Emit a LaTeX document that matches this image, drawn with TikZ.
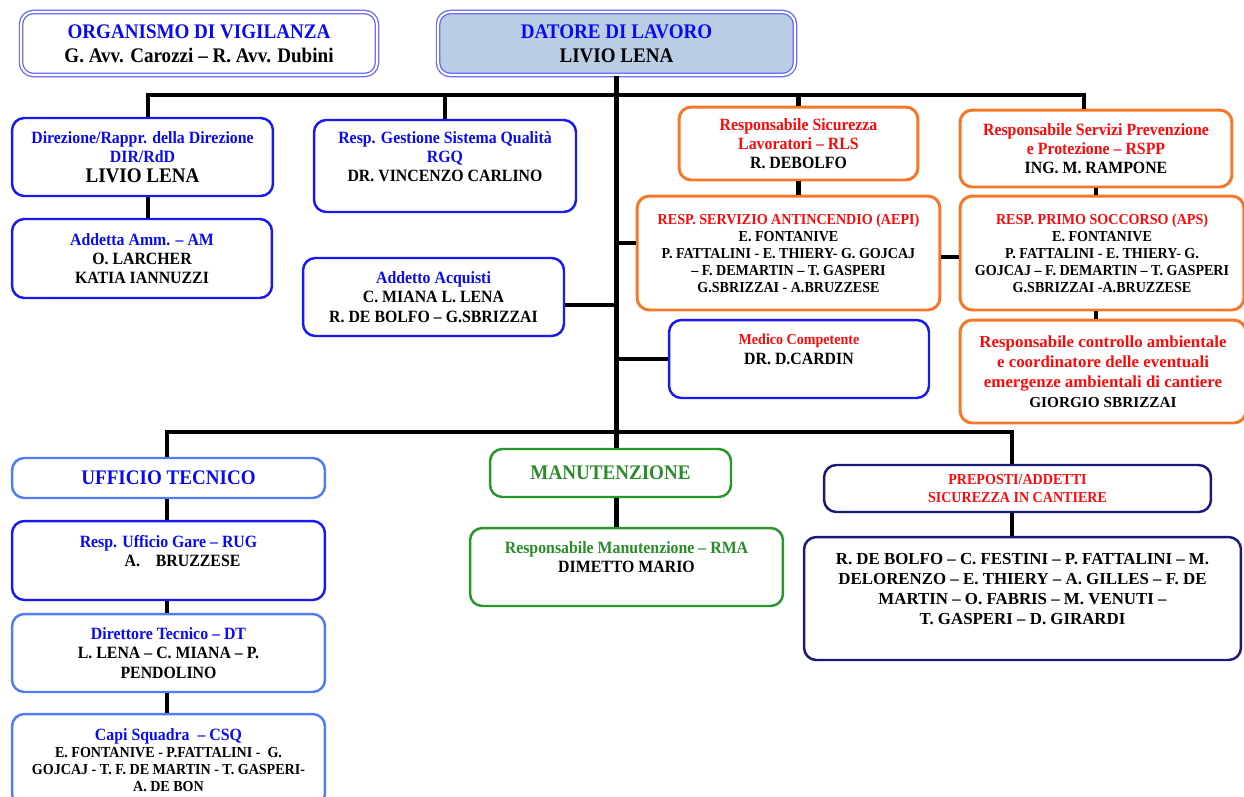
\documentclass[tikz,border=0pt]{standalone}
\usepackage{fontspec}
\setmainfont{Liberation Serif}[FakeStretch=0.92]
\newfontfamily\widefont{Liberation Serif}[Ligatures=TeX]
\definecolor{tblue}{RGB}{10,10,240}
\definecolor{tred}{RGB}{250,10,10}
\definecolor{tgreen}{RGB}{40,140,40}
\definecolor{bblue}{RGB}{25,25,240}
\definecolor{blight}{RGB}{80,125,245}
\definecolor{borange}{RGB}{245,120,40}
\definecolor{bgreen}{RGB}{40,150,40}
\definecolor{bnavy}{RGB}{25,25,120}
\definecolor{bdouble}{RGB}{95,95,245}
\definecolor{dlfill}{RGB}{185,205,228}
\newcommand\fsA{\fontsize{11.8}{13.5}\selectfont}
\newcommand\fsB{\fontsize{9.8}{11}\selectfont}
\newcommand\fsC{\fontsize{8.7}{9.7}\selectfont}
\newcommand\bl[1]{\textcolor{tblue}{#1}}
\newcommand\rd[1]{\textcolor{tred}{#1}}
\newcommand\gr[1]{\textcolor{tgreen}{#1}}
\tikzset{
box/.style={draw, rounded corners=7pt, align=center, inner sep=2pt, line width=1.4pt, font=\bfseries\fsB},
bluebox/.style={box, draw=bblue},
lightbox/.style={box, draw=blight},
orangebox/.style={box, draw=borange, line width=1.7pt},
greenbox/.style={box, draw=bgreen},
navybox/.style={box, draw=bnavy},
topbox/.style={box, draw=bdouble, double=white, double distance=1.2pt, line width=0.7pt, font=\bfseries\fsA},
wide/.style={font=\bfseries\widefont\fontsize{9.6}{11.4}\selectfont},
link/.style={draw=black, line width=2.3pt},
}

\begin{document}
\begin{tikzpicture}[x=0.02cm, y=-0.02cm]
    \useasboundingbox (0,0) rectangle (1244,796);
    \clip (0,0) rectangle (1244,796);
    % top
    \node[topbox, minimum width=7.12cm, minimum height=1.26cm] (org) at (199,43.5) {\bl{ORGANISMO DI VIGILANZA}\\ G. Avv. Carozzi -- R. Avv. Dubini};
    \node[topbox, fill=dlfill, minimum width=7.14cm, minimum height=1.26cm] (dl) at (616.5,43.5) {\bl{DATORE DI LAVORO}\\ LIVIO LENA};
    % first row
    \node[bluebox, minimum width=5.22cm, minimum height=1.56cm] (dir) at (142.5,157) {\bl{Direzione/Rappr. della Direzione}\\ \bl{DIR/RdD}\\ {\fsA LIVIO LENA}};
    \node[bluebox, minimum width=5.2cm, minimum height=1.58cm] (amm) at (142,258.5) {\bl{Addetta Amm. -- AM}\\ O. LARCHER\\ KATIA IANNUZZI};
    \node[bluebox, minimum width=5.24cm, minimum height=1.84cm] (rgq) at (445,166) {\bl{Resp. Gestione Sistema Qualità}\\ \bl{RGQ}\\ DR. VINCENZO CARLINO\\ \mbox{}};
    \node[bluebox, minimum width=5.22cm, minimum height=1.56cm] (acq) at (433.5,297) {\bl{Addetto Acquisti}\\ C. MIANA L. LENA\\ R. DE BOLFO -- G.SBRIZZAI};
    \node[orangebox, minimum width=4.78cm, minimum height=1.46cm] (rls) at (798.5,143.5) {\rd{Responsabile Sicurezza}\\ \rd{Lavoratori -- RLS}\\ R. DEBOLFO};
    \node[orangebox, minimum width=5.44cm, minimum height=1.54cm] (rspp) at (1096,148.5) {\rd{Responsabile Servizi Prevenzione}\\ \rd{e Protezione -- RSPP}\\ ING. M. RAMPONE};
    \node[orangebox, font=\bfseries\fsC, minimum width=6.06cm, minimum height=2.28cm] (aepi) at (788.5,253) {\rd{RESP. SERVIZIO ANTINCENDIO (AEPI)}\\ E. FONTANIVE\\ P. FATTALINI - E. THIERY- G. GOJCAJ\\ -- F. DEMARTIN -- T. GASPERI\\ G.SBRIZZAI - A.BRUZZESE};
    \node[orangebox, font=\bfseries\fsC, minimum width=5.68cm, minimum height=2.28cm] (aps) at (1102,253) {\rd{RESP. PRIMO SOCCORSO (APS)}\\ E. FONTANIVE\\ P. FATTALINI - E. THIERY- G.\\ GOJCAJ -- F. DEMARTIN -- T. GASPERI\\ G.SBRIZZAI -A.BRUZZESE};
    \node[bluebox, minimum width=5.2cm, minimum height=1.56cm] (med) at (799,359) {\rd{\fsC Medico Competente}\\ DR. D.CARDIN\\ \mbox{}};
    \node[orangebox, wide, minimum width=5.72cm, minimum height=2.06cm] (amb) at (1103,371.5) {\rd{Responsabile controllo ambientale}\\ \rd{e coordinatore delle eventuali}\\ \rd{emergenze ambientali di cantiere}\\ {\fsC GIORGIO SBRIZZAI}};
    % bottom row
    \node[lightbox, minimum width=6.26cm, minimum height=0.8cm] (uff) at (168.5,478) {\bl{\fsA UFFICIO TECNICO}};
    \node[bluebox, minimum width=6.26cm, minimum height=1.58cm] (rug) at (168.5,560.5) {\bl{Resp. Ufficio Gare -- RUG}\\ \hspace*{16pt}A.\hspace{9pt}BRUZZESE\\ \mbox{}};
    \node[lightbox, minimum width=6.26cm, minimum height=1.56cm] (dt) at (168.5,653) {\bl{Direttore Tecnico -- DT}\\ L. LENA -- C. MIANA -- P.\\ PENDOLINO};
    \node[lightbox, font=\bfseries\fsC, minimum width=6.26cm, minimum height=1.84cm] (csq) at (168.5,760) {\bl{\fsB Capi Squadra\ \ -- CSQ}\\ E. FONTANIVE - P.FATTALINI -\ \ G.\\ GOJCAJ - T. F. DE MARTIN - T. GASPERI-\\ A. DE BON};
    \node[greenbox, minimum width=4.82cm, minimum height=0.96cm] (man) at (610.5,473) {\gr{\fsA MANUTENZIONE}};
    \node[greenbox, minimum width=6.26cm, minimum height=1.56cm] (rma) at (626.5,567) {\gr{Responsabile Manutenzione -- RMA}\\ DIMETTO MARIO\\ \mbox{}};
    \node[navybox, font=\bfseries\fsC, minimum width=7.74cm, minimum height=0.94cm] (prep) at (1017.5,488.5) {\rd{PREPOSTI/ADDETTI}\\ \rd{SICUREZZA IN CANTIERE}};
    \node[navybox, wide, minimum width=8.74cm, minimum height=2.46cm] (list) at (1022.5,598.5) {R. DE BOLFO -- C. FESTINI -- P. FATTALINI -- M.\\ DELORENZO -- E. THIERY -- A. GILLES -- F. DE\\ MARTIN -- O. FABRIS -- M. VENUTI --\\ T. GASPERI -- D. GIRARDI\\ \mbox{}};
    % connectors
    \coordinate (barL) at (148,95);
    \coordinate (barR) at (1084,95);
    \coordinate (botL) at (167,432);
    \coordinate (botR) at (1012,432);
    \coordinate (trunk) at (616.5,432);
    \draw[link] (dl.south) -- (trunk);
    \draw[link, line cap=rect] (barL) -- (barR);
    \draw[link] (barL) -- (barL |- dir.north);
    \draw[link] (rgq.north |- barL) -- (rgq.north);
    \draw[link] (rls.north |- barL) -- (rls.north);
    \draw[link] (barR) -- (barR |- rspp.north);
    \draw[link] (barL |- dir.south) -- (barL |- amm.north);
    \draw[link] ([yshift=-4.5pt]acq.east) -- ([yshift=-4.5pt]acq.east -| trunk);
    \draw[link] ([yshift=5.5pt]aepi.west -| trunk) -- ([yshift=5.5pt]aepi.west);
    \draw[link] ([yshift=-2.5pt]aepi.east) -- ([yshift=-2.5pt]aps.west);
    \draw[link] (rls.south) -- (rls.south |- aepi.north);
    \draw[link] (rspp.south) -- (rspp.south |- aps.north);
    \draw[link] (rspp.south |- aps.south) -- (rspp.south |- amb.north);
    \draw[link] (med.west -| trunk) -- (med.west);
    \draw[link, line cap=rect] (botL) -- (botR);
    \draw[link] (botL) -- (botL |- uff.north);
    \draw[link] (trunk) -- (trunk |- man.north);
    \draw[link] (botR) -- (botR |- prep.north);
    \draw[link] (botL |- uff.south) -- (botL |- rug.north);
    \draw[link] (botL |- rug.south) -- (botL |- dt.north);
    \draw[link] (botL |- dt.south) -- (botL |- csq.north);
    \draw[link] (trunk |- man.south) -- (trunk |- rma.north);
    \draw[link] (botR |- prep.south) -- (botR |- list.north);
\end{tikzpicture}
\end{document}
